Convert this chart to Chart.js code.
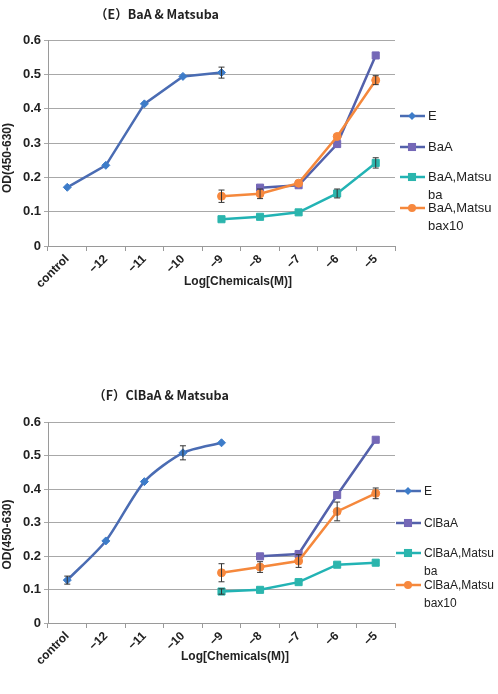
<!DOCTYPE html>
<html>
<head>
<meta charset="utf-8">
<script src="https://cdn.jsdelivr.net/npm/chart.js@4.4.0/dist/chart.umd.min.js"></script>
<style>
    body { margin: 0; background: #fff; width: 498px; height: 694px; position: relative; overflow: hidden; font-family: "Liberation Sans", Arial, sans-serif; }
    canvas { position: absolute; left: 0; }
    .ley { position: absolute; display: flex; align-items: flex-start; color: #222; line-height: 18px; }
    .ley svg { flex: none; margin-right: 3px; }
    .ley span { display: inline-block; word-break: break-all; }
</style>
</head>
<body>
<canvas id="grafE" width="498" height="300" style="top:0"></canvas>
<canvas id="grafF" width="498" height="334" style="top:360px"></canvas>
<div id="leyE"></div>
<div id="leyF"></div>
<script>
const categorias = ['control', '−12', '−11', '−10', '−9', '−8', '−7', '−6', '−5'];
const etiquetasY = ['0', '0.1', '0.2', '0.3', '0.4', '0.5', '0.6'];

// (E) BaA & Matsuba
const etiqE = ['E', 'BaA', 'BaA,Matsuba', 'BaA,Matsubax10'];
const valE_E = [0.171, 0.235, 0.414, 0.494, 0.505, null, null, null, null];
const valE_BaA = [null, null, null, null, null, 0.170, 0.177, 0.297, 0.555];
const valE_Mat = [null, null, null, null, 0.078, 0.085, 0.098, 0.153, 0.242];
const valE_Mat10 = [null, null, null, null, 0.145, 0.152, 0.183, 0.319, 0.483];
const errE_E = [null, null, null, null, 0.016, null, null, null, null];
const errE_BaA = [null, null, null, null, null, null, null, null, null];
const errE_Mat = [null, null, null, null, null, null, null, 0.013, 0.015];
const errE_Mat10 = [null, null, null, null, 0.018, 0.014, null, null, 0.013];

// (F) ClBaA & Matsuba
const etiqF = ['E', 'ClBaA', 'ClBaA,Matsuba', 'ClBaA,Matsubax10'];
const valF_E = [0.128, 0.245, 0.422, 0.508, 0.538, null, null, null, null];
const valF_ClBaA = [null, null, null, null, null, 0.199, 0.206, 0.382, 0.547];
const valF_Mat = [null, null, null, null, 0.094, 0.099, 0.122, 0.174, 0.180];
const valF_Mat10 = [null, null, null, null, 0.150, 0.167, 0.185, 0.333, 0.387];
const errF_E = [0.012, null, null, 0.021, null, null, null, null, null];
const errF_ClBaA = [null, null, null, null, null, null, null, null, null];
const errF_Mat = [null, null, null, null, 0.008, null, null, null, null];
const errF_Mat10 = [null, null, null, null, 0.027, 0.016, 0.019, 0.028, 0.016];

const estilos = [
    { linea: '#4a6cb3', marca: '#3d7cc9', forma: 'rectRot', radio: 4 },
    { linea: '#5361ab', marca: '#7568b7', forma: 'rect', radio: 5 },
    { linea: '#22b3b4', marca: '#2bb5ad', forma: 'rect', radio: 5 },
    { linea: '#f5883c', marca: '#f7883e', forma: 'circle', radio: 4 }
];

const fuente = '"Liberation Sans", Arial, sans-serif';

const barrasError = {
    id: 'barrasError',
    afterDatasetsDraw(chart) {
        const ctx = chart.ctx, ey = chart.scales.y;
        chart.data.datasets.forEach(function(ds, i) {
            const meta = chart.getDatasetMeta(i);
            ds.errores.forEach(function(e, j) {
                if (e == null || ds.data[j] == null) return;
                const x = meta.data[j].x;
                const y1 = ey.getPixelForValue(ds.data[j] + e);
                const y2 = ey.getPixelForValue(ds.data[j] - e);
                ctx.save();
                ctx.strokeStyle = '#333';
                ctx.lineWidth = 1;
                ctx.beginPath();
                ctx.moveTo(x, y1); ctx.lineTo(x, y2);
                ctx.moveTo(x - 3, y1); ctx.lineTo(x + 3, y1);
                ctx.moveTo(x - 3, y2); ctx.lineTo(x + 3, y2);
                ctx.stroke();
                ctx.restore();
            });
        });
    }
};

const textos = {
    id: 'textos',
    afterDraw(chart, args, o) {
        const a = chart.chartArea, ctx = chart.ctx;
        ctx.save();
        ctx.fillStyle = '#222';
        ctx.textAlign = 'center';
        ctx.textBaseline = 'middle';
        ctx.font = 'bold 12.5px "Noto Sans CJK JP"';
        ctx.fillText(o.titulo, a.left + o.tit[0], a.top + o.tit[1]);
        ctx.font = 'bold 12px ' + fuente;
        ctx.fillText('Log[Chemicals(M)]', a.left + o.ejeX[0], a.bottom + o.ejeX[1]);
        ctx.translate(o.ejeY[0], (a.top + a.bottom) / 2 + o.ejeY[1]);
        ctx.rotate(-Math.PI / 2);
        ctx.fillText('OD(450-630)', 0, 0);
        ctx.restore();
    }
};

function crearGraf(id, etiquetas, series, errores, conf) {
    const ctx = document.getElementById(id).getContext('2d');
    return new Chart(ctx, {
        type: 'line',
        data: {
            labels: categorias,
            datasets: series.map(function(s, i) {
                return {
                    label: etiquetas[i],
                    data: s,
                    errores: errores[i],
                    borderColor: estilos[i].linea,
                    backgroundColor: estilos[i].marca,
                    pointBackgroundColor: estilos[i].marca,
                    pointBorderColor: estilos[i].marca,
                    pointBorderWidth: 1,
                    pointStyle: estilos[i].forma,
                    pointRadius: estilos[i].radio,
                    borderWidth: 2.5,
                    tension: conf.tension[i],
                    order: 4 - i
                };
            })
        },
        options: {
            responsive: false,
            animation: false,
            layout: { padding: { top: conf.arriba, right: 103, bottom: 0, left: 0 } },
            plugins: {
                legend: { display: false },
                tooltip: { enabled: false },
                textos: conf.textos
            },
            scales: {
                x: {
                    offset: true,
                    grid: { offset: true, drawOnChartArea: false, tickLength: 5, color: '#9a9a9a' },
                    border: { color: '#9a9a9a' },
                    ticks: {
                        minRotation: 45, maxRotation: 45, autoSkip: false, padding: 1,
                        color: '#222', font: { family: fuente, size: 12, weight: 'bold' }
                    },
                    afterFit: function(s) { s.height = conf.altoEje; s.paddingLeft = 0; s.paddingRight = 0; }
                },
                y: {
                    min: 0, max: 0.6,
                    grid: { color: '#a8a8a8', tickLength: 4 },
                    border: { color: '#9a9a9a' },
                    ticks: {
                        stepSize: 0.1, padding: 3, color: '#222',
                        font: { family: fuente, size: 13, weight: 'bold' },
                        callback: function(v, i) { return etiquetasY[i]; }
                    },
                    afterFit: function(s) { s.width = 48; s.paddingTop = 0; s.paddingBottom = 0; }
                }
            }
        },
        plugins: [barrasError, textos]
    });
}

function marcaSvg(st) {
    const r = st.radio;
    if (st.forma === 'circle') return '<circle cx="12" cy="9" r="' + r + '" fill="' + st.marca + '"/>';
    if (st.forma === 'rect') {
        const s = r * Math.SQRT1_2 + 0.5;
        return '<rect x="' + (12 - s) + '" y="' + (9 - s) + '" width="' + 2 * s + '" height="' + 2 * s + '" fill="' + st.marca + '"/>';
    }
    return '<polygon points="12,' + (9 - r) + ' ' + (12 + r) + ',9 12,' + (9 + r) + ' ' + (12 - r) + ',9" fill="' + st.marca + '"/>';
}

function crearLey(contId, etiquetas, izq, posY, ancho, tam) {
    const cont = document.getElementById(contId);
    etiquetas.forEach(function(t, i) {
        const st = estilos[i];
        const d = document.createElement('div');
        d.className = 'ley';
        d.style.left = izq + 'px';
        d.style.top = (posY[i] - 9) + 'px';
        d.style.fontSize = tam + 'px';
        d.innerHTML = '<svg width="25" height="18"><line x1="0" y1="9" x2="25" y2="9" stroke="' + st.linea +
            '" stroke-width="2.5"/>' + marcaSvg(st) + '</svg><span style="width:' + ancho + 'px">' + t + '</span>';
        cont.appendChild(d);
    });
}

document.addEventListener('DOMContentLoaded', function() {
    crearGraf('grafE', etiqE, [valE_E, valE_BaA, valE_Mat, valE_Mat10], [errE_E, errE_BaA, errE_Mat, errE_Mat10], {
        arriba: 40, altoEje: 54, tension: [0, 0, 0, 0],
        textos: { titulo: '（E）BaA & Matsuba', tit: [109, -26], ejeX: [190, 36], ejeY: [8, 15] }
    });
    crearGraf('grafF', etiqF, [valF_E, valF_ClBaA, valF_Mat, valF_Mat10], [errF_E, errF_ClBaA, errF_Mat, errF_Mat10], {
        arriba: 62, altoEje: 71, tension: [0.25, 0, 0, 0],
        textos: { titulo: '（F）ClBaA & Matsuba', tit: [113, -27], ejeX: [187, 34], ejeY: [8, 12] }
    });
    crearLey('leyE', etiqE, 400, [116, 147, 177, 208], 67, 13);
    crearLey('leyF', etiqF, 396, [491, 523, 553, 585], 72, 12);
});
</script>
</body>
</html>
